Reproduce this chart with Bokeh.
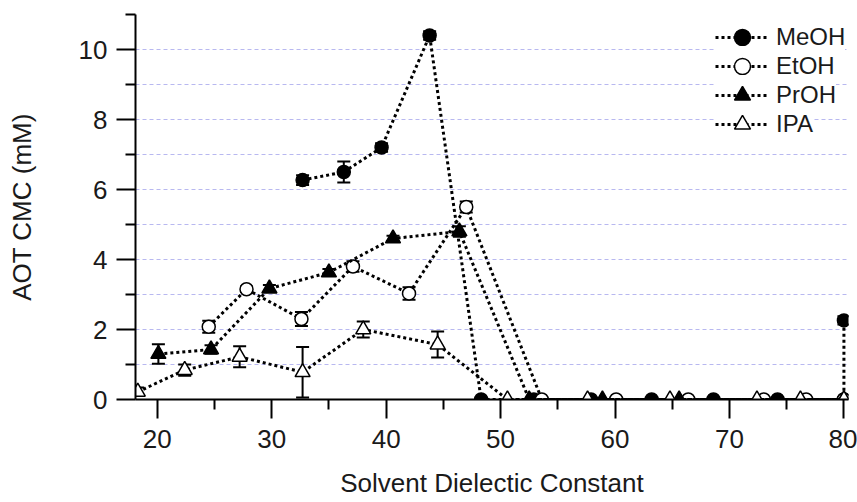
from bokeh.plotting import figure
from bokeh.models import (FixedTicker, Whisker, TeeHead, ColumnDataSource,
                          Legend, LegendItem, Range1d)
from bokeh.embed import file_html
from bokeh.resources import INLINE

# AOT critical micelle concentration in alcohol/water mixtures
meoh_x = [32.7, 36.3, 39.6, 43.8, 48.3, 52.9, 57.9, 63.2, 68.6, 74.2, 80.0, 80.0]
meoh_y = [6.27, 6.5, 7.2, 10.4, 0, 0, 0, 0, 0, 0, 0, 2.26]
meoh_err = [0.14, 0.3, 0.12, 0.12, 0, 0, 0, 0, 0, 0, 0, 0.12]

etoh_x = [24.5, 27.8, 32.6, 37.1, 42.0, 47.0, 53.6, 60.1, 66.4, 73.0, 76.7, 80.0]
etoh_y = [2.08, 3.15, 2.3, 3.8, 3.03, 5.5, 0, 0, 0, 0, 0, 0]
etoh_err = [0.17, 0.08, 0.2, 0.15, 0.18, 0.16, 0, 0, 0, 0, 0, 0]

proh_x = [20.1, 24.7, 29.8, 35.0, 40.6, 46.4, 52.5, 58.9, 65.6, 80.0]
proh_y = [1.3, 1.43, 3.17, 3.63, 4.6, 4.8, 0, 0, 0, 0]
proh_err = [0.28, 0.12, 0.1, 0.1, 0.08, 0.15, 0, 0, 0, 0]

ipa_x = [18.3, 22.4, 27.2, 32.7, 38.0, 44.5, 50.6, 57.6, 64.8, 72.4, 76.2, 80.0]
ipa_y = [0.22, 0.84, 1.22, 0.78, 2.0, 1.57, 0, 0, 0, 0, 0, 0]
ipa_err = [0.12, 0.16, 0.3, 0.72, 0.23, 0.37, 0, 0, 0, 0, 0, 0]

x_ticks = [20, 30, 40, 50, 60, 70, 80]
x_minor = [25, 35, 45, 55, 65, 75]
y_ticks = [0, 2, 4, 6, 8, 10]
y_minor = [1, 3, 5, 7, 9, 11]
grid_levels = [1, 2, 3, 4, 5, 6, 7, 8, 9, 10, 11]

FONT = "Liberation Sans"
INK = "#1a1a1a"

p = figure(width=857, height=502, x_range=Range1d(18.1, 80.4),
           y_range=Range1d(0, 11), output_backend="svg",
           toolbar_location=None, min_border_left=135, min_border_right=9,
           min_border_top=14, min_border_bottom=103)
p.outline_line_color = None
p.xgrid.visible = False
p.ygrid.ticker = FixedTicker(ticks=grid_levels)
p.ygrid.grid_line_color = "#b8b8f0"
p.ygrid.grid_line_dash = "4 3"
p.ygrid.grid_line_width = 1

p.xaxis.ticker = FixedTicker(ticks=x_ticks, minor_ticks=x_minor)
p.yaxis.ticker = FixedTicker(ticks=y_ticks, minor_ticks=y_minor)
p.xaxis.axis_label = "Solvent Dielectic Constant"
p.yaxis.axis_label = "AOT CMC (mM)"
for ax in (p.xaxis, p.yaxis):
    ax.axis_line_width = 2
    ax.axis_line_color = "black"
    ax.major_tick_line_width = 2
    ax.minor_tick_line_width = 2
    ax.major_tick_line_color = "black"
    ax.minor_tick_line_color = "black"
    ax.major_tick_out = 19
    ax.major_tick_in = 0
    ax.minor_tick_out = 10
    ax.minor_tick_in = 0
    ax.major_label_text_font = FONT
    ax.major_label_text_font_size = "26px"
    ax.major_label_text_color = INK
    ax.axis_label_text_font = FONT
    ax.axis_label_text_font_size = "26px"
    ax.axis_label_text_font_style = "normal"
    ax.axis_label_text_color = INK
p.xaxis.major_label_standoff = 11
p.xaxis.axis_label_standoff = 17
p.yaxis.major_label_standoff = 9
p.yaxis.axis_label_standoff = 39

series = [
    ("MeOH", meoh_x, meoh_y, meoh_err, "circle", "black"),
    ("EtOH", etoh_x, etoh_y, etoh_err, "circle", "white"),
    ("PrOH", proh_x, proh_y, proh_err, "triangle", "black"),
    ("IPA", ipa_x, ipa_y, ipa_err, "triangle", "white"),
]

# one single-entry legend per series, stacked, so each key marker can be large
KEY_PITCH = 29
KEY_GLYPH = 40
KEY_TOP_CENTER = 37      # screen y of the first key's centre
FRAME_BOTTOM = 399       # screen y of the plot frame's bottom edge
KEY_LEFT = 580           # key's left edge, from the frame's left edge

for i, (name, xs, ys, errs, marker, fill) in enumerate(series):
    src = ColumnDataSource(dict(x=xs, y=ys))
    line = p.line("x", "y", source=src, line_color="black", line_width=3,
                  line_dash="3 3")
    bars = [(x, y - e, y + e) for x, y, e in zip(xs, ys, errs) if e > 0]
    esrc = ColumnDataSource(dict(x=[b[0] for b in bars],
                                 lo=[b[1] for b in bars],
                                 hi=[b[2] for b in bars]))
    p.add_layout(Whisker(source=esrc, base="x", lower="lo", upper="hi",
                         line_width=2, line_color="black",
                         upper_head=TeeHead(size=13, line_width=2),
                         lower_head=TeeHead(size=13, line_width=2)))
    size = 13 if marker == "circle" else 15
    pts = p.scatter("x", "y", source=src, marker=marker, size=size,
                    fill_color=fill, line_color="black", line_width=1.5)

    centre = KEY_TOP_CENTER + KEY_PITCH * i
    key = Legend(items=[LegendItem(label=name, renderers=[line, pts])],
                 location=(KEY_LEFT, FRAME_BOTTOM - centre - KEY_GLYPH // 2),
                 glyph_width=54, glyph_height=KEY_GLYPH, label_height=KEY_GLYPH,
                 spacing=0, padding=0, margin=0, label_standoff=7,
                 label_text_font=FONT, label_text_font_size="24px",
                 label_text_color=INK, border_line_color=None,
                 background_fill_color="white", background_fill_alpha=1.0)
    p.add_layout(key)

open("out.html", "w").write(file_html(p, INLINE))
